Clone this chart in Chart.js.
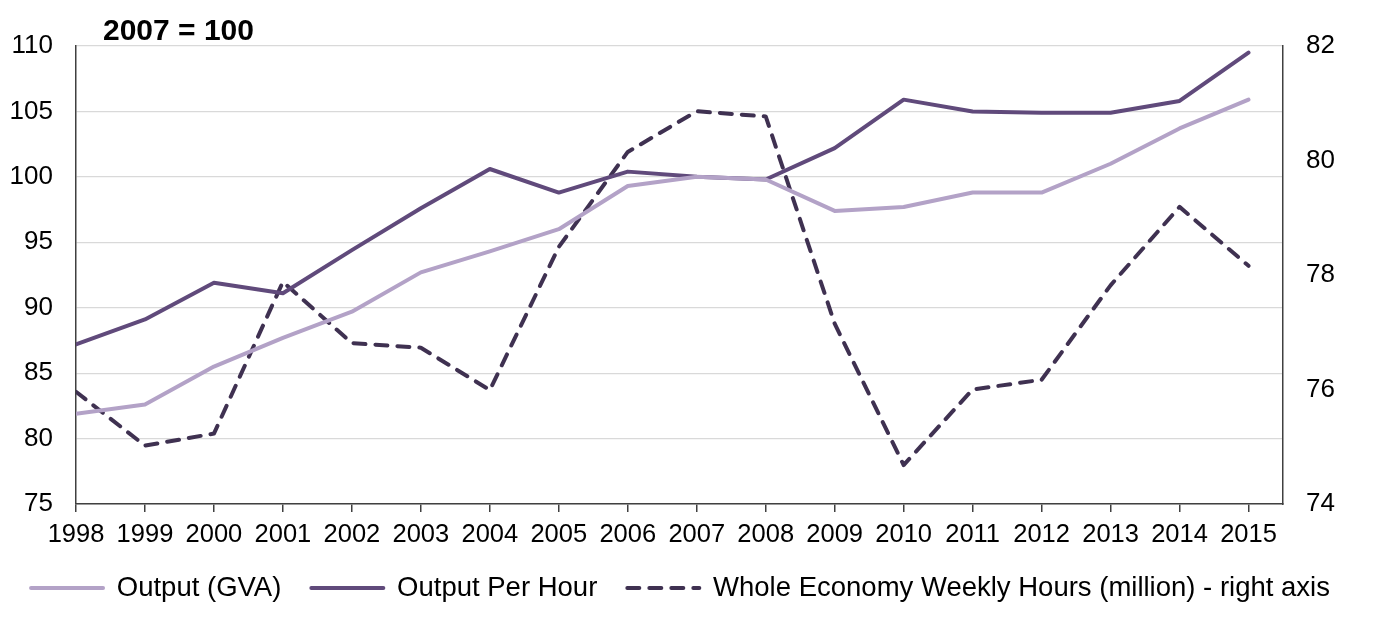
<!DOCTYPE html>
<html>
<head>
<meta charset="utf-8">
<script src="https://cdn.jsdelivr.net/npm/chart.js@4"></script>
<style>
html,body{margin:0;padding:0;background:#fff;}
#wrap{width:1383px;height:618px;position:relative;}
</style>
</head>
<body>
<div id="wrap"><canvas id="c" width="1383" height="618"></canvas></div>
<script>
const years = [1998,1999,2000,2001,2002,2003,2004,2005,2006,2007,2008,2009,2010,2011,2012,2013,2014,2015];
const outputGVA = [81.9,82.6,85.5,87.7,89.7,92.7,94.3,96.0,99.3,100.0,99.8,97.4,97.7,98.8,98.8,101.0,103.7,105.9];
const outputPerHour = [87.2,89.1,91.9,91.1,94.4,97.6,100.6,98.8,100.4,100.0,99.8,102.2,105.9,105.0,104.9,104.9,105.8,109.5];
const weeklyHours = [75.96,75.02,75.23,77.88,76.81,76.73,75.99,78.49,80.15,80.86,80.77,77.15,74.68,76.0,76.17,77.82,79.19,78.16];
const leftTicks = [75,80,85,90,95,100,105,110];
const rightTicks = [74,76,78,80,82];
const seriesNames = ['Output (GVA)','Output Per Hour','Whole Economy Weekly Hours (million) - right axis'];
const titleText = '2007 = 100';

const FONT = 'Liberation Sans, Arial, sans-serif';
const toXY = arr => arr.map((v,i)=>({x:years[i], y:v}));

const titlePlugin = {
  id:'cornerTitle',
  afterLayout(chart){
    const lg = chart.legend;
    if (lg) {
      lg.top = 588 - 30 - 13.75;
      lg.bottom = lg.top + lg.height;
      lg.left -= 11;
      lg.right -= 11;
    }
  },
  afterDraw(chart){
    const ctx = chart.ctx;
    ctx.save();
    ctx.font = 'bold 30px ' + FONT;
    ctx.fillStyle = '#000';
    ctx.textBaseline = 'alphabetic';
    ctx.textAlign = 'left';
    ctx.fillText(titleText, chart.chartArea.left + 27, 40);
    ctx.restore();
  }
};

new Chart(document.getElementById('c'), {
  type:'line',
  data:{
    datasets:[
      {label:seriesNames[0], data:toXY(outputGVA), borderColor:'#b3a2c7', backgroundColor:'#b3a2c7', borderWidth:4, pointRadius:0, tension:0, yAxisID:'y', borderCapStyle:'round', borderJoinStyle:'round'},
      {label:seriesNames[1], data:toXY(outputPerHour), borderColor:'#604a7b', backgroundColor:'#604a7b', borderWidth:4, pointRadius:0, tension:0, yAxisID:'y', borderCapStyle:'round', borderJoinStyle:'round'},
      {label:seriesNames[2], data:toXY(weeklyHours), borderColor:'#3f3151', backgroundColor:'#3f3151', borderWidth:4, borderDash:[12,10], borderCapStyle:'round', borderJoinStyle:'round', pointRadius:0, tension:0, yAxisID:'y2'}
    ]
  },
  options:{
    responsive:false,
    animation:false,
    devicePixelRatio:1,
    layout:{padding:{top:46,left:0,right:0,bottom:0}},
    plugins:{
      tooltip:{enabled:false},
      title:{display:false},
      legend:{
        position:'bottom',
        labels:{
          usePointStyle:true,
          pointStyleWidth:72,
          padding:30,
          color:'#000',
          font:{family:FONT, size:27.5},
          generateLabels(chart){
            return chart.data.datasets.map((ds,i)=>({
              text:ds.label,
              datasetIndex:i,
              pointStyle:'line',
              strokeStyle:ds.borderColor,
              fillStyle:ds.borderColor,
              lineWidth:4,
              lineCap:'round',
              lineDash:ds.borderDash || [],
              fontColor:'#000'
            }));
          }
        }
      }
    },
    scales:{
      x:{
        type:'linear',
        min:1998,
        max:2015.5,
        afterFit(s){ s.height = 46.5; },
        afterBuildTicks(s){ s.ticks = years.map(y=>({value:y})); },
        ticks:{
          stepSize:1,
          autoSkip:false,
          maxRotation:0,
          includeBounds:false,
          padding:8,
          color:'#000',
          font:{family:FONT, size:25.5},
          callback:v=>String(v)
        },
        grid:{drawOnChartArea:false, drawTicks:true, tickLength:8, color:'#404040', lineWidth:1.5},
        border:{display:true, color:'#404040', width:1.5}
      },
      y:{
        position:'left',
        min:75, max:110,
        afterFit(s){ s.width = 76; },
        afterBuildTicks(s){ s.ticks = leftTicks.map(v=>({value:v})); },
        ticks:{padding:23, color:'#000', font:{family:FONT, size:26}},
        grid:{color:'#d9d9d9', lineWidth:1.2, drawTicks:false},
        border:{display:true, color:'#404040', width:1.5}
      },
      y2:{
        position:'right',
        min:74, max:82,
        afterFit(s){ s.width = 100; },
        afterBuildTicks(s){ s.ticks = rightTicks.map(v=>({value:v})); },
        ticks:{padding:23, color:'#000', font:{family:FONT, size:26}},
        grid:{drawOnChartArea:false, drawTicks:false},
        border:{display:true, color:'#404040', width:1.5}
      }
    }
  },
  plugins:[titlePlugin]
});
</script>
</body>
</html>
